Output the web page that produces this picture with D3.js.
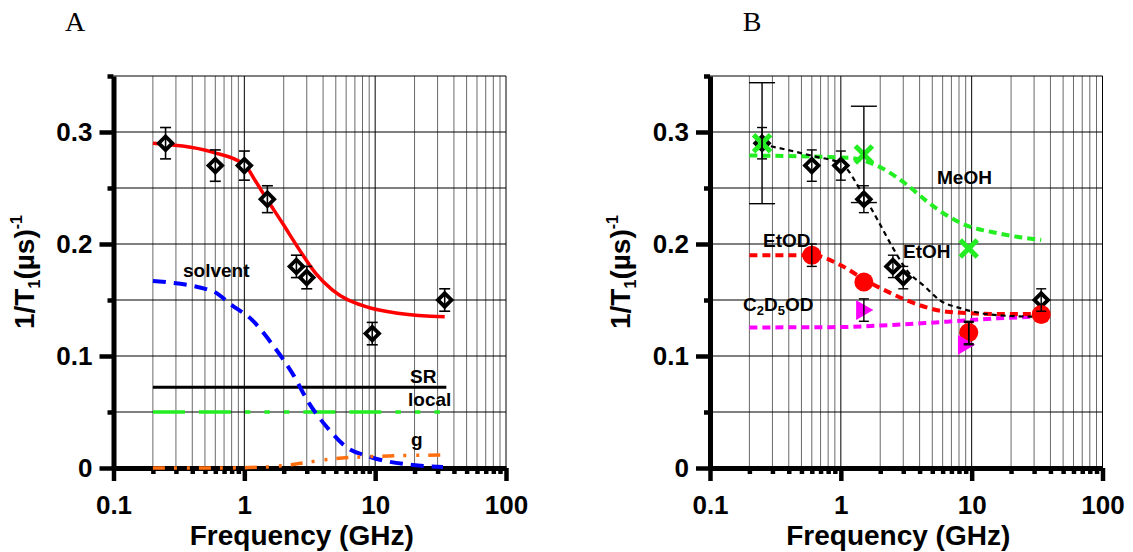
<!DOCTYPE html>
<meta charset="utf-8">
<style>
body { margin: 0; background: #fff; }
svg { display: block; background: #fff; font-family: "Liberation Sans", Arial, sans-serif; }
.tick text { font-weight: bold; font-size: 26px; fill: #000; }
.lbl { font-weight: bold; font-size: 19px; fill: #000; }
.ttl { font-weight: bold; font-size: 28px; fill: #000; }
.panel { font-family: "Liberation Serif", "Times New Roman", serif; font-size: 28px; fill: #000; }
</style>
<svg width="1133" height="552"></svg>
<script src="https://d3js.org/d3.v7.min.js"></script>
<script>

// axis ticks
var xMajor = [0.1, 1, 10, 100];
var yMajor = [0, 0.1, 0.2, 0.3];
var yMinor = [0.05, 0.15, 0.25, 0.35];

// EtOH measured points (both panels)
var etohFreq = [0.25, 0.6, 1, 1.5, 2.5, 3, 9.5, 34];
var etohVal = [0.29, 0.27, 0.27, 0.24, 0.18, 0.17, 0.12, 0.15];
var etohErr = [0.014, 0.014, 0.013, 0.012, 0.01, 0.01, 0.01, 0.01];

// panel A: total fit and its components
var fitFreq = [0.2, 0.57, 1.0, 1.22, 1.45, 1.96, 2.63, 3.5, 4.7, 8.5, 15.4, 34];
var fitVal = [0.29, 0.282, 0.271, 0.256, 0.242, 0.2185, 0.195, 0.174, 0.159, 0.144, 0.138, 0.135];
var solvFreq = [0.2, 0.57, 0.8, 1.15, 1.62, 2.33, 3.13, 4.47, 5.97, 9.1, 19.4, 33];
var solvVal = [0.167, 0.158, 0.1455, 0.132, 0.111, 0.0845, 0.0577, 0.0339, 0.019, 0.010, 0.0027, 0.001];
var gFreq = [0.2, 0.6, 1, 1.5, 2.2, 3.3, 5, 8.5, 15, 34];
var gVal = [0, 0, 0.0003, 0.001, 0.0027, 0.0057, 0.0085, 0.010, 0.011, 0.0116];
var srFreq = [0.2, 35];
var srVal = [0.072, 0.072];
var localFreq = [0.2, 33];
var localVal = [0.05, 0.05];

// panel B: solvents
var etohFitFreq = [0.25, 0.64, 1.0, 1.48, 1.91, 2.47, 3.19, 4.4, 5.69, 8.36, 15.8, 32];
var etohFitVal = [0.289, 0.278, 0.272, 0.244, 0.2215, 0.1976, 0.1767, 0.1618, 0.1499, 0.1424, 0.1364, 0.135];
var meohFitFreq = [0.2, 1.14, 2.04, 3.19, 4.4, 6.07, 8.36, 15.8, 34];
var meohFitVal = [0.279, 0.277, 0.268, 0.253, 0.2394, 0.2275, 0.2185, 0.2096, 0.2036];
var etodFitFreq = [0.2, 0.6, 1.0, 1.48, 2.32, 3.19, 6.47, 15.8, 32];
var etodFitVal = [0.19, 0.19, 0.181, 0.169, 0.157, 0.1497, 0.1396, 0.1375, 0.1375];
var c2d5FitFreq = [0.2, 0.94, 2.32, 4.4, 8.36, 15.8, 34];
var c2d5FitVal = [0.1255, 0.1258, 0.1276, 0.1294, 0.1315, 0.1336, 0.1354];

var meohFreq = [0.25, 1.5, 9.5];
var meohVal = [0.29, 0.28, 0.196];
var meohErr = [0.054, 0.043, 0];
var etodFreq = [0.6, 1.5, 9.5, 34];
var etodVal = [0.19, 0.166, 0.121, 0.137];
var etodErr = [0.01, 0, 0.01, 0];
var c2d5Freq = [1.5, 9];
var c2d5Val = [0.141, 0.11];
var c2d5Err = [0.01, 0];

var svg = d3.select("svg");

function zip(f, v, e) {
  return f.map(function(d, i) { return {f: d, v: v[i], e: e ? e[i] : 0}; });
}

function isDecade(d) {
  var l = Math.log10(d);
  return Math.abs(l - Math.round(l)) < 1e-9;
}

function panel(x0, name, nameX) {
  var x = d3.scaleLog().domain([0.1, 100]).range([x0, x0 + 392.5]);
  var y = d3.scaleLinear().domain([0, 0.35]).range([468, 76]);
  var g = svg.append("g");

  // grid
  g.selectAll(".vg").data(x.ticks().filter(function(d) { return d > 0.11; }))
    .enter().append("line")
    .attr("x1", function(d) { return x(d); }).attr("x2", function(d) { return x(d); })
    .attr("y1", y(0)).attr("y2", y(0.35))
    .attr("stroke", function(d) { return isDecade(d) ? "#000" : "#6a6a6a"; })
    .attr("stroke-width", 1);
  g.selectAll(".hg").data([0.05, 0.1, 0.15, 0.2, 0.25, 0.3, 0.35])
    .enter().append("line")
    .attr("x1", x(0.1)).attr("x2", x(100))
    .attr("y1", function(d) { return y(d); }).attr("y2", function(d) { return y(d); })
    .attr("stroke", "#000").attr("stroke-width", 1);

  // axes
  var minorX = x.ticks().filter(function(d) { return !isDecade(d); });
  g.append("g").attr("transform", "translate(0," + y(0) + ")")
    .call(d3.axisBottom(x).tickValues(xMajor).tickSize(13).tickSizeOuter(0).tickPadding(15)
      .tickFormat(function(d) { return String(d); }));
  var axm = g.append("g").attr("transform", "translate(0," + y(0) + ")")
    .call(d3.axisBottom(x).tickValues(minorX).tickSize(6).tickFormat(""));
  axm.select(".domain").remove();
  g.append("g").attr("transform", "translate(" + x0 + ",0)")
    .call(d3.axisLeft(y).tickValues(yMajor).tickSize(14).tickSizeOuter(0).tickPadding(7)
      .tickFormat(function(d) { return String(d); }));
  var aym = g.append("g").attr("transform", "translate(" + x0 + ",0)")
    .call(d3.axisLeft(y).tickValues(yMinor).tickSize(6).tickFormat(""));
  aym.select(".domain").remove();
  g.selectAll(".domain").attr("stroke-width", 5);
  g.selectAll(".tick line").attr("stroke-width", 4.5);
  g.selectAll(".tick text").attr("font-family", null);

  // titles
  g.append("text").attr("class", "ttl").attr("x", (x(0.1) + x(100)) / 2 - 8).attr("y", 545)
    .attr("text-anchor", "middle").text("Frequency (GHz)");
  var yt = g.append("text").attr("class", "ttl").attr("text-anchor", "middle")
    .attr("transform", "translate(" + (x0 - 80) + ",272) rotate(-90)");
  yt.append("tspan").text("1/T");
  yt.append("tspan").attr("font-size", "16px").attr("dy", 6).text("1");
  yt.append("tspan").attr("dy", -6).text("(\u00b5s)");
  yt.append("tspan").attr("font-size", "16px").attr("dy", -12).text("-1");
  g.append("text").attr("class", "panel").attr("x", nameX).attr("y", 31)
    .attr("text-anchor", "middle").text(name);

  return {g: g, x: x, y: y};
}

function curve(p, data, color, width, dash, interp) {
  var line = d3.line()
    .x(function(d) { return p.x(d.f); })
    .y(function(d) { return p.y(d.v); })
    .curve(interp || d3.curveMonotoneX);
  p.g.append("path").datum(data)
    .attr("d", line).attr("fill", "none")
    .attr("stroke", color).attr("stroke-width", width)
    .attr("stroke-dasharray", dash || null);
}

function errorBars(p, data, cap, width) {
  var e = p.g.selectAll(null).data(data.filter(function(d) { return d.e > 0; })).enter().append("g")
    .attr("stroke", "#000").attr("stroke-width", width);
  e.append("line")
    .attr("x1", function(d) { return p.x(d.f); }).attr("x2", function(d) { return p.x(d.f); })
    .attr("y1", function(d) { return p.y(d.v - d.e); }).attr("y2", function(d) { return p.y(d.v + d.e); });
  [-1, 1].forEach(function(s) {
    e.append("line")
      .attr("x1", function(d) { return p.x(d.f) - cap / 2; }).attr("x2", function(d) { return p.x(d.f) + cap / 2; })
      .attr("y1", function(d) { return p.y(d.v + s * d.e); }).attr("y2", function(d) { return p.y(d.v + s * d.e); });
  });
}

function diamonds(p, data) {
  p.g.selectAll(null).data(data).enter().append("path")
    .attr("d", d3.symbol(d3.symbolSquare, 92)())
    .attr("transform", function(d) { return "translate(" + p.x(d.f) + "," + p.y(d.v) + ") rotate(45)"; })
    .attr("fill", "#fff").attr("stroke", "#000").attr("stroke-width", 3.8);
}

function label(p, x, y, txt) {
  return p.g.append("text").attr("class", "lbl").attr("x", x).attr("y", y).text(txt);
}

// ---------- panel A ----------
var A = panel(113.5, "A", 75);
var etoh = zip(etohFreq, etohVal, etohErr);

curve(A, zip(srFreq, srVal), "#000", 3, null, d3.curveLinear);
curve(A, zip(localFreq, localVal), "#22ee22", 3.5, "32,14,32,14,5.5,14,5.5,14,5.5,14", d3.curveLinear);
curve(A, zip(solvFreq, solvVal), "#0000ff", 4, "13,8");
curve(A, zip(gFreq, gVal), "#ff6f0f", 3.5, "12,9,3,10,3,9");
curve(A, zip(fitFreq, fitVal), "#ff0000", 3.5);
diamonds(A, etoh);
errorBars(A, etoh, 11, 1.6);

label(A, 183, 277, "solvent");
label(A, 410, 383, "SR");
label(A, 408, 406, "local");
label(A, 411, 446, "g");

// ---------- panel B ----------
var B = panel(710, "B", 752);

curve(B, zip(c2d5FitFreq, c2d5FitVal), "#ff00ff", 4, "8,5");
curve(B, zip(etodFitFreq, etodFitVal), "#ff0000", 4, "8,5");
curve(B, zip(meohFitFreq, meohFitVal), "#22ee22", 4, "8,5");
curve(B, zip(etohFitFreq, etohFitVal), "#000", 2.2, "5,4");

diamonds(B, etoh);

var meoh = zip(meohFreq, meohVal, meohErr);
B.g.selectAll(null).data(meoh).enter().append("path")
  .attr("d", function(d) {
    var cx = B.x(d.f), cy = B.y(d.v), r = 8.5;
    return "M" + (cx - r) + "," + (cy - r) + "L" + (cx + r) + "," + (cy + r) +
      "M" + (cx - r) + "," + (cy + r) + "L" + (cx + r) + "," + (cy - r);
  })
  .attr("stroke", "#22ee22").attr("stroke-width", 5).attr("fill", "none");

var etod = zip(etodFreq, etodVal, etodErr);
B.g.selectAll(null).data(etod).enter().append("circle")
  .attr("cx", function(d) { return B.x(d.f); })
  .attr("cy", function(d) { return B.y(d.v); })
  .attr("r", 9.5).attr("fill", "#ff0000");

var c2d5 = zip(c2d5Freq, c2d5Val, c2d5Err);
B.g.selectAll(null).data(c2d5).enter().append("path")
  .attr("d", d3.symbol(d3.symbolTriangle, 170)())
  .attr("transform", function(d) { return "translate(" + (B.x(d.f) - 2) + "," + B.y(d.v) + ") rotate(90)"; })
  .attr("fill", "#ff00ff");

errorBars(B, etoh, 10, 1.4);
errorBars(B, meoh, 26, 1.4);
errorBars(B, etod, 10, 1.4);
errorBars(B, c2d5, 10, 1.4);

label(B, 937, 184, "MeOH");
label(B, 763, 247, "EtOD");
label(B, 903, 258, "EtOH");
var c2 = label(B, 743, 311, "C");
c2.append("tspan").attr("font-size", "13px").attr("dy", 4).text("2");
c2.append("tspan").attr("dy", -4).text("D");
c2.append("tspan").attr("font-size", "13px").attr("dy", 4).text("5");
c2.append("tspan").attr("dy", -4).text("OD");

</script>
